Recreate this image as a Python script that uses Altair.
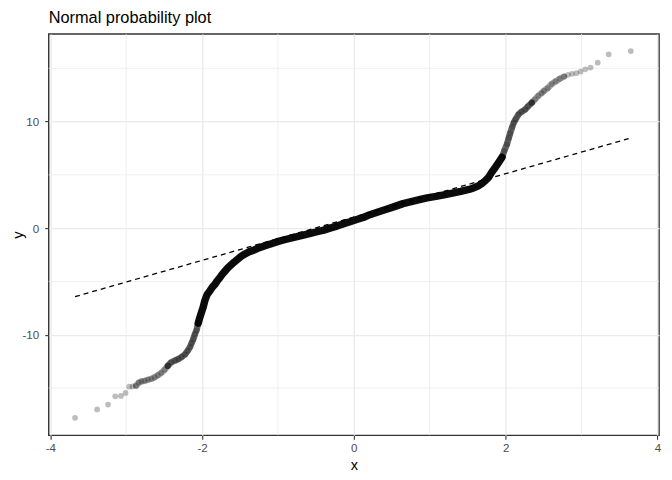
import altair as alt
import pandas as pd

# Theoretical normal quantiles (x) and sample quantiles (y)
sample_x = [-3.674, -3.383, -3.239, -3.144, -3.069, -3.008, -2.961, -2.916, -2.869, -2.834,
            -2.799, -2.756, -2.713, -2.668, -2.625, -2.582, -2.538, -2.495, -2.452, -2.407,
            -2.355, -2.312, -2.269, -2.225, -2.191, -2.159, -2.138, -2.116, -2.094, -2.073,
            -2.051, -2.029, -2.008, -1.986, -1.963, -1.933, -1.898, -1.868, -1.833, -1.803,
            -1.768, -1.738, -1.702, -1.659, -1.616, -1.572, -1.529, -1.486, -1.441, -1.385,
            -1.311, -1.255, -1.180, -1.098, -1.007, -0.902, -0.789, -0.680, -0.572, -0.484,
            -0.397, -0.315, -0.223, -0.132, -0.050, 0.038, 0.125, 0.211, 0.299, 0.430,
            0.534, 0.648, 0.756, 0.864, 0.965, 1.082, 1.187, 1.300, 1.409, 1.517,
            1.578, 1.648, 1.696, 1.735, 1.778, 1.822, 1.866, 1.909, 1.953, 1.983,
            2.018, 2.042, 2.061, 2.087, 2.107, 2.133, 2.170, 2.211, 2.257, 2.296,
            2.345, 2.388, 2.431, 2.475, 2.505, 2.554, 2.606, 2.658, 2.714, 2.770,
            2.822, 2.875, 2.932, 2.988, 3.050, 3.119, 3.214, 3.358, 3.650]
sample_y = [-17.80, -17.02, -16.56, -15.79, -15.75, -15.47, -14.88, -14.86, -14.79, -14.51,
            -14.39, -14.33, -14.23, -14.14, -14.00, -13.81, -13.58, -13.30, -12.93, -12.60,
            -12.42, -12.28, -12.09, -11.86, -11.53, -11.16, -10.79, -10.42, -9.95, -9.58,
            -8.93, -8.37, -7.91, -7.44, -6.79, -6.23, -5.91, -5.58, -5.30, -4.98,
            -4.68, -4.37, -4.07, -3.72, -3.44, -3.16, -2.91, -2.65, -2.45, -2.23,
            -2.05, -1.86, -1.67, -1.49, -1.27, -1.07, -0.87, -0.68, -0.49, -0.34,
            -0.19, 0.00, 0.19, 0.42, 0.60, 0.81, 1.00, 1.26, 1.46, 1.77,
            2.02, 2.30, 2.48, 2.67, 2.84, 2.98, 3.13, 3.28, 3.44, 3.63,
            3.77, 4.00, 4.23, 4.47, 4.79, 5.30, 5.72, 6.17, 6.65, 7.26,
            7.88, 8.47, 8.93, 9.49, 9.89, 10.23, 10.67, 10.93, 11.13, 11.44,
            11.77, 12.09, 12.42, 12.68, 12.88, 13.14, 13.52, 13.77, 14.02, 14.23,
            14.39, 14.48, 14.54, 14.70, 14.91, 15.07, 15.53, 16.31, 16.62]

# Reference (qq) line end points
qq_line_x = [-3.674, 3.650]
qq_line_y = [-6.43, 8.46]

# Axis ticks
x_major = [-4, -2, 0, 2, 4]
y_major = [-10, 0, 10]
x_minor = [-3, -1, 1, 3]
y_minor = [-15, -5, 5, 15]
x_domain = [-4.022, 4.022]
y_domain = [-19.44, 18.23]

pts = pd.DataFrame({"x": sample_x, "y": sample_y})
line_df = pd.DataFrame({"x": qq_line_x, "y": qq_line_y})
vgrid = pd.DataFrame({"v": x_minor})
hgrid = pd.DataFrame({"v": y_minor})

xs = alt.Scale(domain=x_domain, nice=False, zero=False)
ys = alt.Scale(domain=y_domain, nice=False, zero=False)
xax = alt.Axis(values=x_major, title="x", labelExpr="toString(datum.value)")
yax = alt.Axis(values=y_major, title="y", labelExpr="toString(datum.value)")

X = alt.X("x:Q", scale=xs, axis=xax)
Y = alt.Y("y:Q", scale=ys, axis=yax)

minor_v = alt.Chart(vgrid).mark_rule(color="#EBEBEB", strokeWidth=0.8).encode(
    x=alt.X("v:Q", scale=xs, axis=xax))
minor_h = alt.Chart(hgrid).mark_rule(color="#EBEBEB", strokeWidth=0.8).encode(
    y=alt.Y("v:Q", scale=ys, axis=yax))


def band(lo, hi, op, w=6.5):
    return alt.Chart(pts).transform_filter(
        (alt.datum.x >= lo) & (alt.datum.x <= hi)
    ).mark_line(color="black", strokeWidth=w, opacity=op, strokeCap="round",
                strokeJoin="round").encode(x=X, y=Y, order="x:Q")


points = alt.Chart(pts).mark_circle(color="black", opacity=0.26, size=34).encode(x=X, y=Y)

qq = alt.Chart(line_df).mark_line(color="black", strokeWidth=1.3, strokeDash=[5, 4]).encode(x=X, y=Y)

chart = alt.layer(
    minor_v, minor_h, points,
    band(-2.90, -2.45, 0.35), band(-2.452, -2.05, 0.6), band(-2.051, 1.96, 0.95, 7.5),
    band(1.953, 2.35, 0.6), band(2.345, 2.80, 0.35),
    qq
).properties(
    width=616, height=405,
    title=alt.TitleParams("Normal probability plot", anchor="start", frame="group", fontSize=16.5,
                          font="Liberation Sans", fontWeight="normal", color="black", offset=7),
    autosize=alt.AutoSizeParams(type="none"),
    padding={"left": 41, "top": 24, "right": 5, "bottom": 40},
).configure_view(
    stroke="#333333", strokeWidth=1.4
).configure_axis(
    labelFont="Liberation Sans", labelFontSize=11.7, labelColor="#4D4D4D",
    titleFont="Liberation Sans", titleFontSize=14.7, titleColor="black", titleFontWeight="normal",
    tickColor="#333333", tickSize=4, tickWidth=1.1, domain=False,
    grid=True, gridColor="#EBEBEB", gridWidth=1.4, labelPadding=3, titlePadding=4
).configure_axisY(titlePadding=-4, labelPadding=6)

chart.save("out.html", embed_options={"renderer": "svg", "actions": False})
